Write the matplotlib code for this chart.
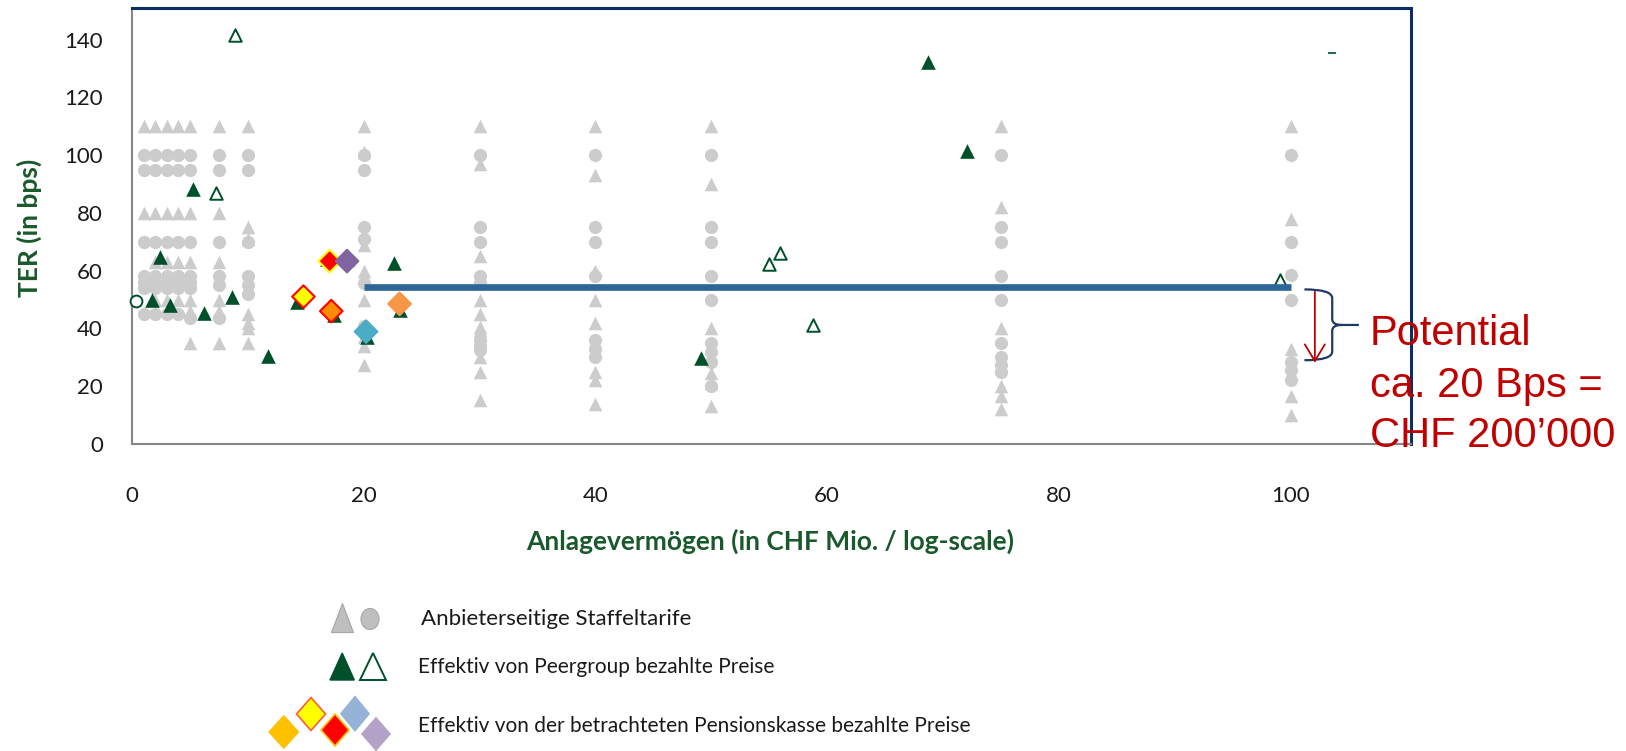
import numpy as np
import matplotlib
matplotlib.use("Agg")
import matplotlib.pyplot as plt
from matplotlib.path import Path
from matplotlib.patches import PathPatch, Polygon, Ellipse

# provider tariff columns (CHF Mio.) and TER values (bps)
staffel_cols = [1, 2, 3, 4, 5, 7.5, 10, 20, 30, 40, 50, 75, 100]
staffel_tri = [
    [110, 80],
    [110, 80, 63, 50],
    [110, 80, 63, 50],
    [110, 80, 63, 50],
    [110, 80, 63, 50, 46, 35],
    [110, 80, 63, 50, 46, 35],
    [110, 75, 71, 45, 42, 40, 35],
    [110, 101, 69, 60, 50, 37, 34, 27.3],
    [110, 97, 65, 50, 45, 40.6, 39.5, 30, 25, 15.2],
    [110, 93, 60, 50, 42, 25, 22, 14],
    [110, 90, 40, 24.5, 21, 13],
    [110, 82, 40, 20, 16.5, 12],
    [110, 78, 33, 16.5, 10],
]
staffel_circ = [
    [100, 95, 70, 58, 56, 54, 45],
    [100, 95, 70, 58, 56, 54, 45],
    [100, 95, 70, 58, 56, 54, 45],
    [100, 95, 70, 58, 56, 54, 45],
    [100, 95, 70, 58, 56, 54, 43.5],
    [100, 95, 70, 58, 55, 43.5],
    [100, 95, 70, 58, 55, 52],
    [100, 95, 75, 71, 55.6, 41],
    [100, 75, 70, 58, 55.7, 36, 34, 32.5],
    [100, 75, 70, 58, 36, 33, 30],
    [100, 75, 70, 58, 50, 35, 32, 28.5, 20],
    [100, 75, 70, 58, 50, 35, 30, 27.5, 25],
    [100, 70, 58.5, 50, 28.5, 25.5, 22],
]

# peer group prices
peer_x = [2.4, 1.7, 3.3, 6.2, 8.6, 5.3, 11.7, 14.2, 16.8, 17.4, 18.6, 20.3, 22.6, 23.1, 49.1, 68.7, 72.1]
peer_y = [64.8, 49.8, 48.1, 45.5, 51, 88.2, 30.5, 49.3, 64, 44.6, 64, 37, 62.5, 46.4, 29.7, 132.2, 101.3]
peer_open_x = [8.9, 7.25, 55.0, 55.9, 58.8, 99.1]
peer_open_y = [141.6, 86.8, 62.3, 66, 41.3, 56.8]
peer_circ_x = [0.35]
peer_circ_y = [49.5]
peer_odd_x = [103.6]
peer_odd_y = [135.2]

# pension fund prices
pk_x = [14.8, 17.06, 18.56, 17.2, 20.2, 23.1]
pk_y = [51, 63.3, 63.3, 46, 38.9, 48.5]
pk_face = ['#FFFF00', '#FF0000', '#8064A2', '#FF8C00', '#4BACC6', '#F79646']
pk_edge = ['#FF0000', '#FFFF00', '#8064A2', '#FF0000', '#4BACC6', '#F79646']

# target level
target_x = [20, 100]
target_y = [54.2, 54.2]

xticks = [0, 20, 40, 60, 80, 100]
yticks = [0, 20, 40, 60, 80, 100, 120, 140]

GREEN = '#00502A'
LABEL_GREEN = '#19592B'
GREY = '#CCCCCC'
NAVY = '#0C2E63'
RED = '#C00000'

W, H = 1626, 751
fig = plt.figure(figsize=(W / 100, H / 100), dpi=100)
fig.patch.set_facecolor('white')

ax = fig.add_axes([132 / W, 1 - 444 / H, (1411 - 132) / W, (444 - 8.3) / H])
ax.set_xlim(0, 110.4)
ax.set_ylim(0, 150.8)

tri_x = [c for c, vals in zip(staffel_cols, staffel_tri) for _ in vals]
tri_y = [v for vals in staffel_tri for v in vals]
circ_x = [c for c, vals in zip(staffel_cols, staffel_circ) for _ in vals]
circ_y = [v for vals in staffel_circ for v in vals]

ax.scatter(circ_x, circ_y, marker='o', s=9.5 ** 2, color=GREY, linewidths=0, zorder=2)
ax.scatter(tri_x, tri_y, marker='^', s=9.8 ** 2, color=GREY, linewidths=0, zorder=2)

ax.scatter(peer_x, peer_y, marker='^', s=10.5 ** 2, color=GREEN, linewidths=0, zorder=3)
ax.scatter(peer_open_x, peer_open_y, marker='^', s=9 ** 2, facecolor='white',
           edgecolor=GREEN, linewidths=1.4, zorder=3)
ax.scatter(peer_circ_x, peer_circ_y, marker='o', s=8.5 ** 2, facecolor='white',
           edgecolor=GREEN, linewidths=1.4, zorder=3, clip_on=False)
ax.scatter(peer_odd_x, peer_odd_y, marker='_', s=6 ** 2, color=GREEN, linewidths=1.2, zorder=3)

ax.scatter(pk_x, pk_y, marker='D', s=11.5 ** 2, facecolor=pk_face, edgecolor=pk_edge,
           linewidths=1.5, zorder=4)

ax.plot(target_x, target_y, color='#2E6699', lw=4.8, solid_capstyle='butt', zorder=5)

# curly brace + arrow for the savings potential
x0, xv, xt = 101.2, 103.6, 105.9
ytop, ybot, ymid = 53.5, 29.0, 41.2
verts = [(x0, ytop), (xv, ytop), (xv, ytop - 3),
         (xv, ymid + 2),
         (xv, ymid), (xv + 0.8, ymid),
         (xt, ymid),
         (xv + 0.8, ymid), (xv, ymid), (xv, ymid - 2),
         (xv, ybot + 3),
         (xv, ybot), (x0, ybot)]
codes = [Path.MOVETO, Path.CURVE3, Path.CURVE3,
         Path.LINETO,
         Path.CURVE3, Path.CURVE3,
         Path.LINETO,
         Path.MOVETO, Path.CURVE3, Path.CURVE3,
         Path.LINETO,
         Path.CURVE3, Path.CURVE3]
brace = PathPatch(Path(verts, codes), facecolor='none', edgecolor='#1F3864', lw=1.6,
                  clip_on=False, zorder=6)
ax.add_patch(brace)
ax.annotate('', xy=(102.1, 28.1), xytext=(102.1, 52.7),
            arrowprops=dict(arrowstyle='->,head_length=0.6,head_width=0.36', color=RED,
                            lw=1.3, mutation_scale=20, shrinkA=0, shrinkB=0),
            annotation_clip=False, zorder=6)

for s in ['left', 'bottom']:
    ax.spines[s].set_color('#878787')
    ax.spines[s].set_linewidth(1.5)
for s in ['top', 'right']:
    ax.spines[s].set_color(NAVY)
    ax.spines[s].set_linewidth(2.2)

ax.set_xticks(xticks)
ax.set_yticks(yticks)
ax.tick_params(length=0, labelsize=16, labelcolor='#1a1a1a')
ax.tick_params(axis='y', pad=21)
ax.tick_params(axis='x', pad=30)
for lab in ax.get_xticklabels() + ax.get_yticklabels():
    lab.set_fontfamily('Lato')

fig.text(770.5 / W, 1 - 541.3 / H, 'Anlagevermögen (in CHF Mio. / log-scale)',
         ha='center', va='center', fontsize=19, fontweight='bold',
         color=LABEL_GREEN, family='Lato')
fig.text(29 / W, 1 - 228 / H, 'TER (in bps)', rotation=90, ha='center', va='center',
         fontsize=19, fontweight='bold', color=LABEL_GREEN, family='Lato')

for txt, yb in [('Potential', 345), ('ca. 20 Bps =', 396.7), ('CHF 200\u2019000', 446.7)]:
    fig.text(1370 / W, 1 - yb / H, txt, ha='left', va='baseline', fontsize=30,
             color=RED, family='Liberation Sans', zorder=10)

# legend drawn in pixel coordinates
lg = fig.add_axes([0, 0, 1, 1], zorder=-1)
lg.set_xlim(0, W)
lg.set_ylim(H, 0)
lg.axis('off')

lg.add_patch(Polygon([(331.5, 632.6), (353.5, 632.6), (342.5, 603.5)],
                     facecolor='#BFBFBF', edgecolor='#A6A6A6', lw=0.8))
lg.add_patch(Ellipse((370, 619), 18, 21, facecolor='#BFBFBF', edgecolor='#A6A6A6', lw=0.8))
lg.add_patch(Polygon([(330, 680), (354.3, 680), (342.2, 653)], facecolor=GREEN, edgecolor=GREEN))
lg.add_patch(Polygon([(360, 680), (386, 680), (373, 653)], facecolor='white',
                     edgecolor=GREEN, lw=1.4))

diamonds = [((283.8, 732), 29, 32, '#FFC000', '#FFC000'),
            ((311, 714), 29, 33, '#FFFF00', '#FF5B3B'),
            ((355, 713.7), 28, 34, '#95B3D7', '#95B3D7'),
            ((335, 730), 28, 32, '#FF0000', '#FFC000'),
            ((376, 734), 28, 32, '#B3A2C7', '#B3A2C7')]
for (cx, cy), dw, dh, fc, ec in diamonds:
    lg.add_patch(Polygon([(cx, cy - dh / 2), (cx + dw / 2, cy), (cx, cy + dh / 2), (cx - dw / 2, cy)],
                         facecolor=fc, edgecolor=ec, lw=1.2))

leg_kw = dict(ha='left', va='center', color='#1a1a1a', family='Lato')
lg.text(421, 619, 'Anbieterseitige Staffeltarife', fontsize=16, **leg_kw)
lg.text(418, 667, 'Effektiv von Peergroup bezahlte Preise', fontsize=15, **leg_kw)
lg.text(418, 726, 'Effektiv von der betrachteten Pensionskasse bezahlte Preise', fontsize=15, **leg_kw)

fig.savefig('out.png', dpi=100, facecolor='white')
